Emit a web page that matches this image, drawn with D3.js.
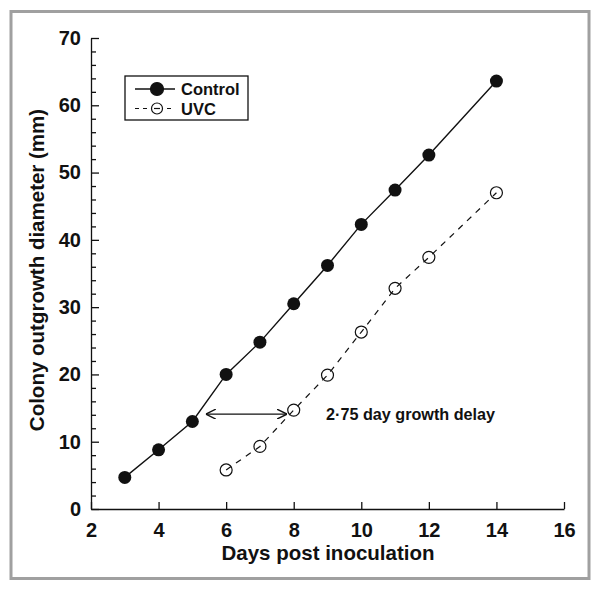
<!DOCTYPE html>
<html><head><meta charset="utf-8">
<script src="https://cdn.jsdelivr.net/npm/d3@7"></script>
<style>body{margin:0;background:#fff}</style>
</head><body>
<script>
const controlDays = [3,4,5,6,7,8,9,10,11,12,14];
const controlValues = [4.7,8.8,13.0,20.0,24.8,30.5,36.2,42.3,47.4,52.6,63.6];
const uvcDays = [6,7,8,9,10,11,12,14];
const uvcValues = [5.8,9.3,14.7,19.9,26.3,32.8,37.4,47.0];
const xTicks = [2,4,6,8,10,12,14,16];
const yTicks = [0,10,20,30,40,50,60,70];
const yMinorTicks = d3.range(0,71,2);
const seriesNames = ["Control","UVC"];
const annotation = {x1:5.4, x2:7.8, y:14.1, text:"2·75 day growth delay"};

const W=600,H=591;
const svg=d3.select("body").append("svg").attr("width",W).attr("height",H);
svg.append("rect").attr("x",11).attr("y",11.5).attr("width",578).attr("height",567)
  .attr("fill","#fff").attr("stroke","#a0a0a0").attr("stroke-width",3);

const x=d3.scaleLinear().domain([2,16]).range([91,564]);
const y=d3.scaleLinear().domain([0,70]).range([509,38]);
const font="Liberation Sans, Arial, sans-serif";

// axes
const xa=svg.append("g").attr("transform","translate(0,509)")
  .call(d3.axisBottom(x).tickValues(xTicks).tickSize(-7).tickPadding(14).tickSizeOuter(0));
xa.selectAll("text").attr("font-size",20).attr("font-weight","bold").attr("font-family",font).attr("fill","#111");
const ya=svg.append("g").attr("transform","translate(91,0)")
  .call(d3.axisLeft(y).tickValues(yTicks).tickSize(-8).tickPadding(10).tickSizeOuter(0));
ya.selectAll("text").attr("font-size",20).attr("font-weight","bold").attr("font-family",font).attr("fill","#111");
svg.append("g").attr("transform","translate(91,0)")
  .call(d3.axisLeft(y).tickValues(yMinorTicks.filter(v=>v%10!==0)).tickSize(-5).tickFormat("").tickSizeOuter(0))
  .select(".domain").remove();
svg.selectAll(".domain,.tick line").attr("stroke","#111").attr("stroke-width",1.3);

svg.append("text").attr("x",328).attr("y",560).attr("text-anchor","middle")
  .attr("font-size",20.5).attr("font-weight","bold").attr("font-family",font).attr("fill","#111")
  .text("Days post inoculation");
svg.append("text").attr("transform","translate(44,270) rotate(-90)").attr("text-anchor","middle")
  .attr("font-size",20.5).attr("font-weight","bold").attr("font-family",font).attr("fill","#111")
  .text("Colony outgrowth diameter (mm)");

const line=d3.line().x(d=>x(d[0])).y(d=>y(d[1]));
const cData=controlDays.map((d,i)=>[d,controlValues[i]]);
const uData=uvcDays.map((d,i)=>[d,uvcValues[i]]);
svg.append("path").datum(cData).attr("d",line).attr("fill","none").attr("stroke","#111").attr("stroke-width",1.4);
svg.append("path").datum(uData).attr("d",line).attr("fill","none").attr("stroke","#111").attr("stroke-width",1.2).attr("stroke-dasharray","6,6");
svg.selectAll(".c").data(cData).enter().append("circle").attr("cx",d=>x(d[0])).attr("cy",d=>y(d[1])).attr("r",6.5).attr("fill","#111");
svg.selectAll(".u").data(uData).enter().append("circle").attr("cx",d=>x(d[0])).attr("cy",d=>y(d[1])).attr("r",6).attr("fill","none").attr("stroke","#111").attr("stroke-width",1.2);

// annotation arrow
const defs=svg.append("defs");
defs.append("marker").attr("id","ah").attr("viewBox","0 0 10 10").attr("refX",10).attr("refY",5)
  .attr("markerWidth",10).attr("markerHeight",10).attr("markerUnits","userSpaceOnUse").attr("orient","auto-start-reverse")
  .append("path").attr("d","M0,0 L10,5 L0,10").attr("fill","none").attr("stroke","#111").attr("stroke-width",1.4);
svg.append("line").attr("x1",x(annotation.x1)).attr("x2",x(annotation.x2)).attr("y1",y(annotation.y)).attr("y2",y(annotation.y))
  .attr("stroke","#111").attr("stroke-width",1.3).attr("marker-start","url(#ah)").attr("marker-end","url(#ah)");
svg.append("text").attr("x",326).attr("y",y(annotation.y)+5.5).attr("font-size",16.2).attr("font-weight","bold")
  .attr("font-family",font).attr("fill","#111").text(annotation.text);

// legend
const lg=svg.append("g");
lg.append("rect").attr("x",125).attr("y",76).attr("width",123).attr("height",44).attr("fill","#fff").attr("stroke","#111").attr("stroke-width",1.3);
seriesNames.forEach((n,i)=>{
  const yy=89+i*19.5;
  lg.append("line").attr("x1",135).attr("x2",175).attr("y1",yy).attr("y2",yy).attr("stroke","#111")
    .attr("stroke-width",i?1.2:1.4).attr("stroke-dasharray",i?"4,4":null);
  lg.append("circle").attr("cx",157).attr("cy",yy).attr("r",i?5.5:6.5).attr("fill",i?"#fff":"#111").attr("stroke","#111").attr("stroke-width",1.2);
  if(i) lg.append("line").attr("x1",154).attr("x2",160).attr("y1",yy).attr("y2",yy).attr("stroke","#111").attr("stroke-width",1.2);
  lg.append("text").attr("x",181).attr("y",yy+6).attr("font-size",16.5).attr("font-weight","bold").attr("font-family",font).attr("fill","#111").text(n);
});
</script>
</body></html>
